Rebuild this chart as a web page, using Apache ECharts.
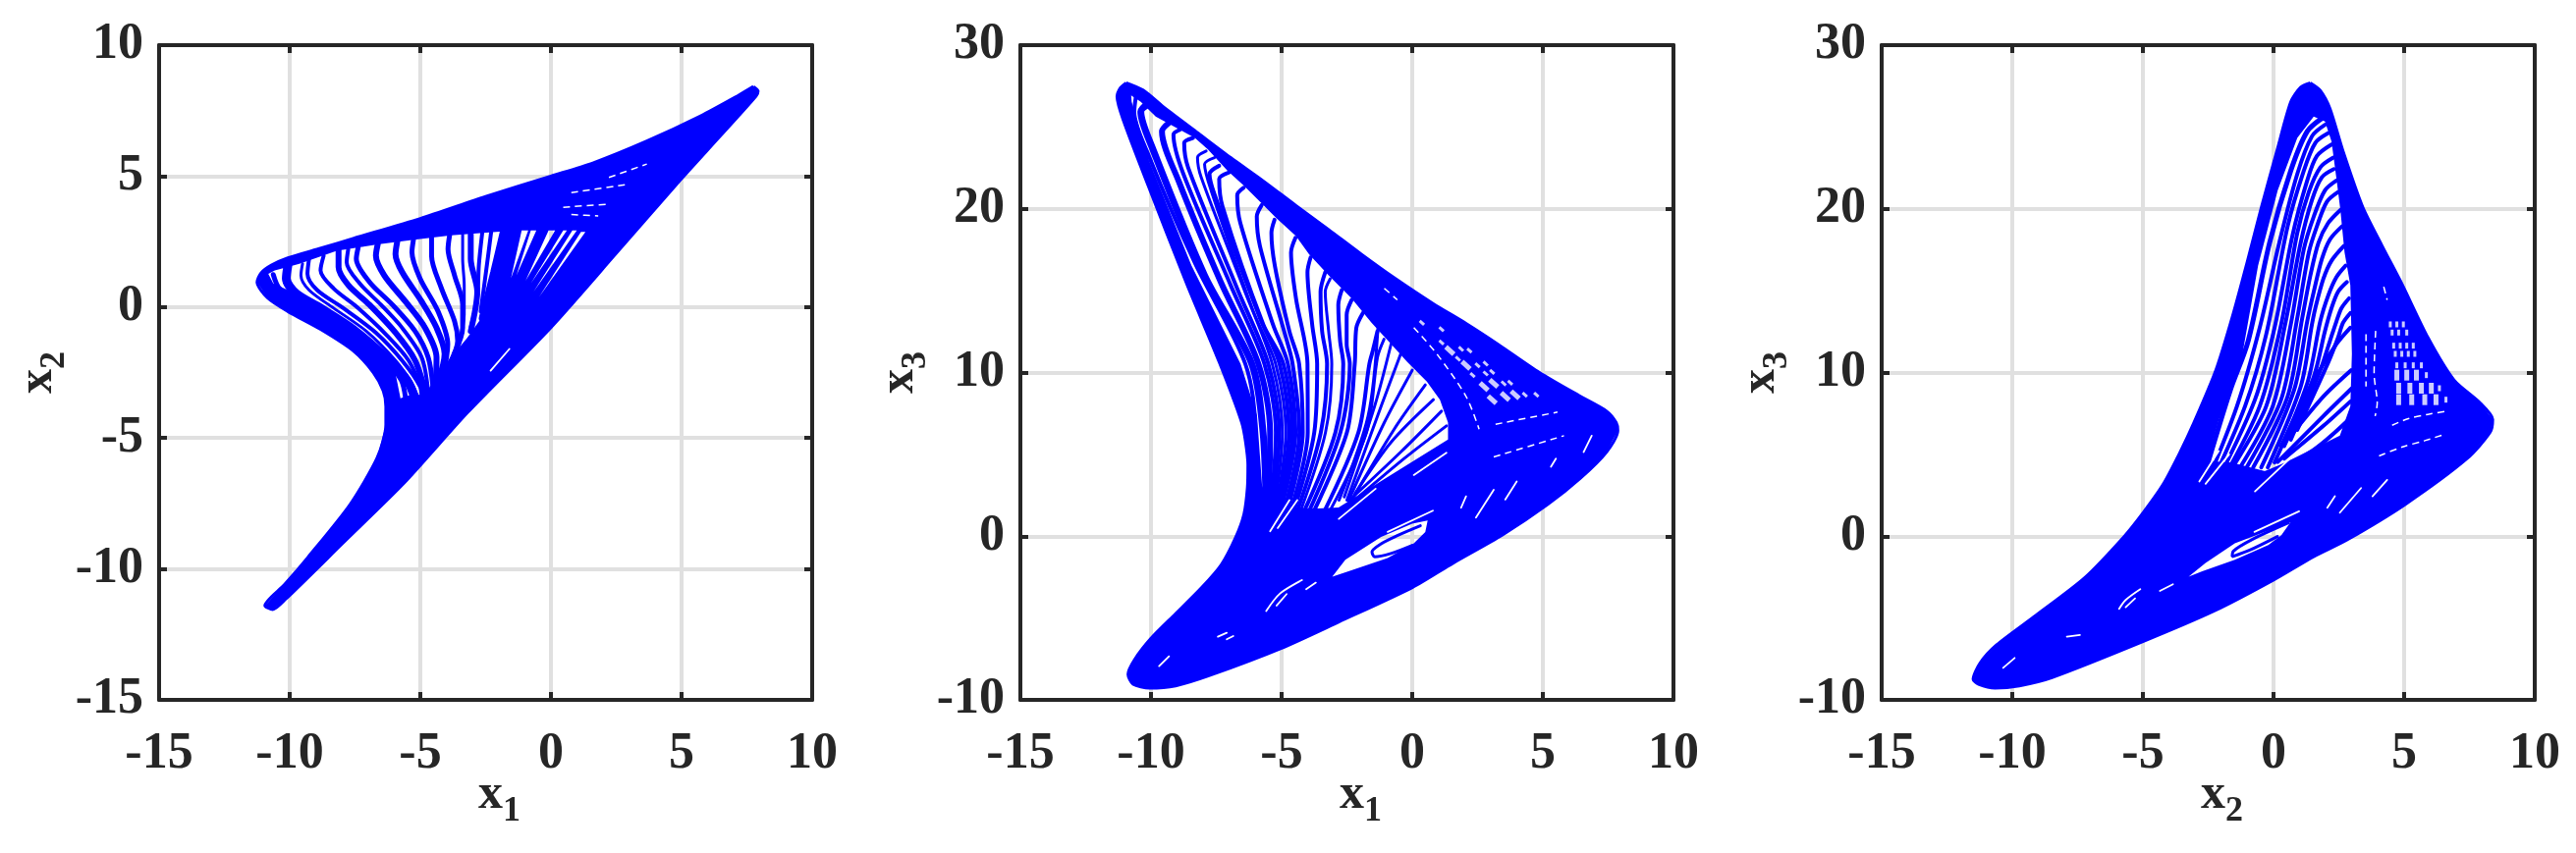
<!DOCTYPE html>
<html><head><meta charset="utf-8">
<style>html,body{margin:0;padding:0;background:#fff}#c{width:2623px;height:869px}</style>
<script src="https://cdn.jsdelivr.net/npm/echarts@6/dist/echarts.min.js"></script>
</head><body><div id="c"></div>
<script>
const xNames = ['1','1','2'];
const yNames = ['2','3','3'];

/* ---------- panel 1 : x1 / x2 ---------- */
const outer1 = [[7.75,8.42],[7.93,8.25],[7.85,8.05],[6.5,6.55],[5,4.9],[2.5,2.05],[0,-0.78],[-3.2,-4.04],[-5.6,-6.7],[-8,-9.05],[-10.15,-11.15],[-10.65,-11.55],[-10.95,-11.4],[-10.2,-10.6],[-9.3,-9.55],[-7.7,-7.55],[-6.65,-5.75],[-6.32,-4.5],[-6.32,-3.8],[-6.42,-3.2],[-6.8,-2.5],[-7.57,-1.67],[-8.82,-0.85],[-10.07,-0.17],[-10.85,0.35],[-11.25,0.95],[-11.1,1.3],[-10.7,1.6],[-10.07,1.88],[-8.8,2.25],[-7.57,2.62],[-5,3.38],[-2.5,4.22],[0,5],[1.6,5.5],[3.67,6.34],[5.73,7.3],[7.17,8.08]];
const hole1 = [[-10.82,1.27],[-10.57,1.4],[-9.63,1.65],[-8.2,2.15],[-6.57,2.4],[-5.32,2.56],[-3.82,2.74],[-1.73,2.9],[-2.13,1.34],[-2.57,-0.29],[-3.2,-1.17],[-3.82,-1.92],[-4.45,-2.73],[-4.82,-3.35],[-5.38,-3.35],[-5.76,-3.48],[-5.95,-2.54],[-6.57,-1.67],[-7.57,-0.85],[-8.82,0],[-10.07,0.65],[-10.63,0.9]];
const wedges1 = [
 [[-1.12,2.93],[-0.87,2.93],[-1.53,1.1]],
 [[-0.77,2.93],[-0.56,2.93],[-1.32,1.21]],
 [[-0.09,2.93],[0.16,2.93],[-0.97,1.0]],
 [[0.47,2.93],[0.61,2.93],[-0.77,0.9]],
 [[0.82,2.93],[0.99,2.93],[-0.66,0.59]],
 [[1.15,2.87],[1.32,2.87],[-0.46,0.38]]
];
const strands1 = [
 [[-10.63,1.24],[-10.38,0.69],[-9.38,0.02],[-7.7,-0.94],[-6.38,-1.98],[-5.73,-2.79],[-5.57,-3.45]],
 [[-10.07,1.59],[-10.13,1.09],[-9.76,0.52],[-8.82,-0.04],[-7.57,-0.85],[-6.32,-1.92],[-5.51,-2.79],[-5.2,-3.5]],
 [[-9.51,1.65],[-9.57,1.21],[-9.26,0.65],[-8.32,-0.04],[-7.07,-0.92],[-5.95,-2.04],[-5.32,-2.92],[-5.07,-3.5]],
 [[-9.26,1.84],[-9.32,1.27],[-8.95,0.65],[-7.95,-0.04],[-6.7,-0.98],[-5.7,-2.04],[-5.01,-3.04],[-4.95,-3.5]],
 [[-8.7,1.96],[-8.82,1.4],[-8.32,0.71],[-7.45,0.02],[-6.32,-1.04],[-5.45,-2.04],[-4.82,-3.4]],
 [[-8.13,2.15],[-8.13,1.52],[-7.76,0.84],[-6.95,0.09],[-5.95,-0.98],[-5.2,-2.04],[-4.76,-3.4]],
 [[-7.76,2.21],[-7.82,1.71],[-7.32,0.9],[-6.51,0.09],[-5.7,-0.79],[-4.95,-1.92],[-4.7,-3.2]],
 [[-7.38,2.27],[-7.45,1.84],[-6.95,0.96],[-6.07,0.09],[-5.2,-0.92],[-4.7,-1.92],[-4.51,-3.1]],
 [[-6.63,2.4],[-6.7,1.96],[-6.38,1.21],[-5.57,0.21],[-4.82,-0.79],[-4.38,-1.92],[-4.4,-3.0]],
 [[-5.88,2.52],[-5.95,2.02],[-5.7,1.34],[-4.95,0.21],[-4.38,-0.79],[-4.07,-1.79],[-4.3,-2.8]],
 [[-5.26,2.59],[-5.32,2.09],[-5.01,1.09],[-4.32,-0.17],[-3.95,-1.42],[-4.1,-2.5]],
 [[-4.57,2.65],[-4.57,1.96],[-4.19,0.71],[-3.69,-0.54],[-3.57,-1.29],[-3.9,-2.2]],
 [[-3.88,2.73],[-3.94,2.21],[-3.69,1.21],[-3.38,0.09],[-3.38,-0.79],[-3.7,-1.8]],
 [[-3.38,2.77],[-3.38,1.84],[-3.32,0.84],[-3.32,-0.29],[-3.51,-1.42]],
 [[-3.07,2.77],[-3.07,1.84],[-2.82,0.59],[-3.07,-0.92]],
 [[-2.63,2.84],[-2.76,1.59],[-2.82,0.34],[-3.07,-0.79]],
 [[-2.29,2.86],[-2.47,1.46],[-2.69,-0.17]],
 [[-1.82,2.9],[-2.19,1.34],[-2.63,-0.42]]
];
const widths1 = [5,9,3,4,4,6,4,5,6,6,5,5,5,3,6,4,4,7];
const slits1 = [
 [[-1.59,-1.6],[-2.31,-2.43]]
];
const dashes1 = [
 [[2.22,4.95],[3.67,5.46]],
 [[0.78,4.37],[2.95,4.69]],
 [[0.47,3.81],[2.22,3.93]],
 [[0.78,3.53],[1.81,3.48]]
];

/* ---------- panel 2 : x1 / x3 ---------- */
const outer2 = [[-10.95,27.7],[-10.3,27.25],[-9.45,26.13],[-8.2,24.63],[-6.95,23.13],[-5.7,21.7],[-4.45,20.2],[-3.2,18.73],[-1.95,17.23],[-0.7,15.8],[0.81,14.2],[2.06,13.0],[3.31,11.7],[4.87,10],[6.44,8.54],[7.44,7.64],[7.81,6.94],[7.87,6.44],[7.44,5.14],[6.44,3.54],[5.19,1.94],[3.44,0.06],[1.57,-1.64],[0,-3.14],[-2.81,-5.24],[-5,-6.84],[-7.81,-8.54],[-9.06,-9.14],[-10.06,-9.28],[-10.69,-9.04],[-10.88,-8.44],[-10.63,-7.54],[-10,-6.24],[-9.06,-4.74],[-8.06,-3.14],[-7.31,-1.74],[-6.75,-0.04],[-6.44,1.36],[-6.31,2.96],[-6.29,4.36],[-6.38,5.76],[-6.53,6.96],[-7.38,10.6],[-8.64,15.44],[-10.11,21.42],[-11.06,25.41],[-11.3,26.85],[-11.17,27.4]];
const hole2 = [[-10.76,26.93],[-10.74,26.53],[-10.07,22.93],[-8.45,16.53],[-6.57,10.53],[-5.94,7.34],[-5.75,3.14],[-5.5,1.9],[-4.6,1.7],[-3.6,1.7],[-2.82,1.75],[1.37,5.9],[1.37,6.94],[1.06,8.34],[0.56,9.44],[-0.19,10.64],[-0.81,11.74],[-1.56,13.04],[-2.32,14.53],[-3.2,15.93],[-3.95,17.23],[-4.45,18.33],[-5.2,19.43],[-5.76,20.33],[-6.45,21.43],[-7.07,22.33],[-7.82,23.63],[-8.32,24.33],[-9.82,25.63],[-10.39,26.53]];
const lens2 = [[-3.06,-2.48],[-2.56,-1.44],[-1.19,-0.04],[0,0.76],[0.59,0.96],[0.5,0.26],[0.06,-0.44],[-0.94,-1.34],[-2.44,-2.14]];
const strands2 = [
 [[-10.58,26.83],[-10.64,25.93],[-10.08,23.23],[-8.33,16.73],[-6.39,10.53],[-6.0,6.34],[-6,2.94]],
 [[-10.08,26.43],[-10.39,25.93],[-9.95,23.73],[-7.95,15.93],[-6.14,10.53],[-5.71,6.34],[-5.59,1.34]],
 [[-9.33,25.23],[-9.58,24.73],[-8.95,21.73],[-7.33,15.53],[-5.89,10.53],[-5.44,6.34],[-5.5,1.34]],
 [[-8.89,24.83],[-9.14,24.53],[-8.76,22.13],[-6.95,15.33],[-5.66,10.53],[-5.22,6.34],[-5.44,1.34]],
 [[-8.39,24.33],[-8.73,24.03],[-8.58,22.53],[-6.7,15.13],[-5.51,10.53],[-5.09,6.34],[-5.38,1.34]],
 [[-7.89,23.53],[-8.22,23.13],[-8.08,21.93],[-6.45,15.13],[-5.36,10.53],[-4.97,6.34],[-5.31,1.34]],
 [[-7.57,23.13],[-7.95,22.73],[-7.7,21.13],[-6.08,13.73],[-5.23,10.53],[-4.84,6.34],[-5.25,1.34]],
 [[-7.39,22.63],[-7.76,22.13],[-7.58,20.93],[-5.83,13.33],[-5.08,10.53],[-4.72,6.34],[-5.19,1.34]],
 [[-7.01,22.23],[-7.39,21.83],[-7.26,20.13],[-5.7,12.93],[-4.93,10.53],[-4.59,6.34],[-5.13,1.34]],
 [[-6.45,21.29],[-6.7,20.83],[-6.58,19.13],[-5.33,12.93],[-4.76,10.53],[-4.47,6.34],[-5.07,1.34]],
 [[-5.76,20.23],[-5.95,19.53],[-5.83,17.73],[-4.9,12.5],[-4.58,10.53],[-4.32,6.34],[-4.94,1.34]],
 [[-5.27,19.33],[-5.39,18.53],[-5.26,16.53],[-4.7,12.5],[-4.33,10.53],[-4.19,6.34],[-4.82,1.34]],
 [[-4.47,18.23],[-4.64,17.33],[-4.45,14.53],[-4.01,10.53],[-4.0,6.34],[-4.69,1.34]],
 [[-3.89,17.03],[-4.01,16.13],[-3.83,12.93],[-3.64,10.53],[-3.75,6.34],[-4.57,1.34]],
 [[-3.33,16.13],[-3.51,14.93],[-3.45,12.53],[-3.26,10.53],[-3.5,6.34],[-4.44,1.34]],
 [[-3.14,15.73],[-3.33,14.93],[-3.2,12.53],[-3.08,10.53],[-3.32,6.34],[-4.32,1.34]],
 [[-2.7,15.03],[-2.83,14.13],[-2.76,11.93],[-2.64,10.53],[-2.94,6.34],[-4.19,1.34]],
 [[-2.32,14.43],[-2.51,13.53],[-2.51,11.73],[-2.39,10.53],[-2.75,6.34],[-4,1.34]],
 [[-1.89,13.63],[-2.14,12.73],[-2.2,10.53],[-2.5,6.34],[-3.82,1.34]],
 [[-1.33,12.53],[-1.51,11.33],[-1.64,10.53],[-2.06,6.34],[-3.4,1.4]],
 [[-1.08,12.03],[-1.33,10.93],[-1.75,6.34],[-3.2,1.4]],
 [[-1.31,12.74],[-1.69,7.34],[-2.8,2.2]],
 [[-0.81,11.74],[-1.44,7.94],[-2.6,2.4]],
 [[-0.44,11.14],[-1.19,7.94],[-2.5,2.2]],
 [[0,10.14],[-1.07,6.94],[-2.4,2.3]],
 [[0.5,9.24],[-0.69,6.54],[-2.32,2.2]],
 [[0.81,8.34],[-0.81,5.74],[-2.19,2.6]],
 [[1.12,7.64],[-0.44,5.14],[-2.44,2.14]],
 [[1.31,6.74],[-0.31,4.74],[-2.69,1.54]],
 [[0,-0.56],[-0.82,-1.06],[-1.44,-1.26],[-1.54,-0.96],[-1.19,-0.46],[-0.57,0.04],[0.31,0.64]]
];
const widths2 = [4,7,6,4,4,3,3,4,4,4,4,4,4,4,4,3,4,4,4,4,3,3,3,3,3,3,3,3,3,3];
const slits2 = [
 [[-0.94,0.26],[0.79,1.56]],
 [[1.31,5.1],[0.06,3.74]],
 [[4,3.34],[3.56,2.24]],
 [[3.12,2.84],[2.44,1.14]],
 [[2.06,2.44],[1.87,1.74]],
 [[5.5,4.74],[5.31,4.24]],
 [[6.87,6.14],[6.56,5.14]],
 [[-5.59,-4.57],[-5.06,-3.5],[-4.22,-2.68]],
 [[-5.19,-4.24],[-4.81,-3.54]],
 [[-4.06,-3.24],[-3.69,-2.84]],
 [[-7.44,-6.14],[-7.1,-5.9]],
 [[-7.1,-6.3],[-6.85,-6.1]],
 [[-9.69,-7.94],[-9.31,-7.34]],
 [[-5.44,0.3],[-4.7,2.2]],
 [[-5.15,0.5],[-4.4,2.2]],
 [[-2.81,1.06],[-1.4,2.9]]
];
const dashes2 = [
 [[3.19,6.84],[5.56,7.58]],
 [[3.12,4.84],[5.81,6.14]],
 [[0.06,12.74],[0.94,11.14],[2.06,8.54],[2.56,6.54]],
 [[-1.07,15.14],[-0.57,14.44]]
];
const windowsBig2 = [[1.44,11.34],[2.06,10.44],[2.75,9.14],[3.12,9.34],[3.06,8.34],[3.56,8.54],[3.94,8.64]];
const windowsSmall2 = [[0.37,13.04],[1.12,12.64],[1.12,11.84],[1.87,11.44],[2.19,11.34],[1.75,10.84],[2.5,10.44],[2.81,10.54],[2.31,9.84],[2.81,9.94],[3.06,10.04],[3.5,9.34],[3.75,9.38],[4.31,8.64],[4.75,8.64]];

/* ---------- panel 3 : x2 / x3 ---------- */
const outer3 = [[1.41,27.69],[1.79,27.23],[2.16,26.13],[2.66,23.53],[3.41,20.13],[4.16,17.73],[4.91,15.43],[5.91,12.14],[6.91,9.54],[7.91,8.14],[8.39,7.14],[8.29,6.34],[7.41,4.74],[5.04,1.94],[2.8,-0.24],[1.55,-1.24],[0,-2.68],[-2.23,-4.54],[-5,-6.44],[-8.48,-8.64],[-9.73,-9.14],[-10.66,-9.28],[-11.29,-9.04],[-11.5,-8.74],[-11.23,-7.74],[-10.6,-6.64],[-9.1,-4.84],[-7.23,-2.54],[-5.73,-0.04],[-4.98,1.46],[-4.23,3.16],[-3.6,5.06],[-3.04,6.96],[-2.21,10.13],[-1.59,13.33],[-1,16.8],[-0.46,20.13],[0.16,23.73],[0.66,26.53],[1.04,27.43]];
const hole3 = [[1.54,25.63],[0.91,24.33],[0.16,21.13],[-0.59,16.53],[-1.28,10.33],[-2.09,7.14],[-2.55,4.6],[-1.6,4.5],[-0.25,3.95],[2.54,6.14],[2.94,7.94],[3,11.14],[2.94,15.34],[2.72,17.33],[2.56,19.93],[2.41,21.83],[2.22,24.13],[1.97,25.33]];
const lens3 = [[-3.25,-2.48],[-2.6,-1.64],[-1.48,-0.44],[0.65,0.86],[0.3,0.06],[-0.2,-0.54],[-1.48,-1.44],[-2.73,-2.14]];
const strands3 = [
 [[1.89,25.57],[1.29,24.73],[0.66,22.33],[-0.15,17.93],[-0.97,11.93],[-1.65,8.94],[-2.65,3.74]],
 [[1.97,25.13],[1.47,24.43],[0.91,22.13],[0.22,17.93],[-0.53,12.73],[-1.4,7.94],[-2.53,3.34]],
 [[2.1,24.63],[1.6,24.03],[1.16,22.33],[0.54,18.93],[-0.28,12.33],[-1.09,7.94],[-2.34,3.34]],
 [[2.22,23.93],[1.66,23.23],[1.29,21.73],[0.72,18.33],[0.04,12.73],[-0.71,8.34],[-2.09,3.54]],
 [[2.29,23.13],[1.79,22.53],[1.35,21.03],[0.91,18.53],[0.29,12.93],[-0.53,7.94],[-1.84,3.74]],
 [[2.31,22.43],[1.85,21.93],[1.47,20.53],[1.04,17.93],[0.47,13.13],[-0.28,7.94],[-1.59,4.14]],
 [[2.41,21.73],[1.97,21.13],[1.54,19.53],[1.16,17.53],[0.66,12.93],[-0.03,7.94],[-1.28,4.2]],
 [[2.47,21.03],[2.04,20.43],[1.66,18.93],[1.35,17.33],[0.91,13.33],[0.29,8.34],[-1.03,4.2]],
 [[2.56,19.93],[2.09,19.13],[1.72,17.93],[1.41,15.93],[1.1,13.33],[0.54,8.54],[-0.78,4.2]],
 [[2.62,18.93],[2.16,18.13],[1.85,16.93],[1.54,14.93],[1.29,13.13],[0.79,8.94],[-0.47,4.2]],
 [[2.69,17.73],[2.22,16.83],[1.91,15.73],[1.6,13.93],[1.47,12.93],[1.04,9.14],[-0.22,4.2]],
 [[2.76,16.53],[2.41,15.83],[2.1,14.73],[1.79,13.13],[1.29,9.34],[0.04,4.5]],
 [[2.81,15.53],[2.47,14.93],[2.22,13.93],[1.97,12.53],[1.54,9.74],[0.41,5.5]],
 [[2.89,14.53],[2.6,13.93],[2.41,13.13],[2.16,11.93],[1.79,10.14],[0.66,5.9]],
 [[2.94,13.63],[2.66,13.03],[2.47,12.13],[2.1,10.64],[0.91,6.5]],
 [[2.94,12.74],[2.41,11.74],[1.41,9.14],[0.29,5.5]],
 [[2.97,10.14],[1.91,8.54],[0.66,6.14]],
 [[3,9.04],[1.91,7.34],[0.16,4.54]],
 [[2.95,8.24],[1.91,6.74],[0.41,4.74]],
 [[2.89,7.14],[1.41,5.14],[-0.34,3.84]],
 [[0.15,-0.02],[-0.91,-0.85],[-1.58,-1.25],[-1.54,-0.92],[-0.8,-0.19],[0.57,0.81]]
];
const widths3 = [5,4,4,4,4,4,4,4,4,4,4,4,4,4,4,4,4,4,4,4,3];
const slits3 = [
 [[0.98,1.52],[-0.73,0.26]],
 [[4.35,3.44],[3.79,2.44]],
 [[3.35,2.94],[2.54,1.44]],
 [[2.35,2.44],[2.06,1.74]],
 [[-5.91,-4.44],[-5.66,-3.9],[-5.1,-3.24]],
 [[-5.66,-4.34],[-5.3,-3.8]],
 [[-4.35,-3.34],[-3.85,-2.94]],
 [[-7.91,-6.14],[-7.41,-6.04]],
 [[-10.35,-8.04],[-9.91,-7.44]],
 [[-2.84,3.34],[-2.1,5.2]],
 [[-2.6,3.2],[-1.7,5]],
 [[-0.71,2.74],[0.6,4.7]]
];
const dashes3 = [
 [[4.54,6.78],[5.16,7.18],[5.91,7.44],[6.66,7.64]],
 [[4.04,4.9],[4.91,5.44],[5.79,5.84],[6.47,6.18]],
 [[3.54,12.34],[3.54,9.14]],
 [[3.91,12.54],[3.85,9.94],[3.97,8.14],[3.89,7.34]],
 [[4.22,15.24],[4.35,14.44]]
];
const windowsBig3 = [[4.79,9.04],[5.22,9.04],[5.66,9.04],[6.04,9.04],[4.79,8.34],[5.29,8.34],[5.79,8.34],[6.22,8.34],[4.72,9.84],[5.1,9.84],[5.47,9.84]];
const windowsSmall3 = [[4.47,12.94],[4.72,12.94],[4.97,12.94],[4.54,12.44],[4.79,12.44],[5.1,12.44],[4.6,11.64],[4.85,11.64],[5.1,11.64],[5.35,11.64],[4.66,11.14],[4.91,11.14],[5.16,11.14],[5.41,11.14],[4.72,10.44],[5.04,10.44],[5.35,10.44],[5.66,10.44],[5.85,9.84],[6.35,9.04],[6.6,8.34]];

/* ---------- drawing ---------- */
const BLUE = '#0000ff', INK = '#262626', FONT = 'Liberation Serif';
const panels = [
 {left:162, yMin:-15, yMax:10, yStep:5, outer:outer1, holes:[hole1].concat(wedges1), strands:strands1, widths:widths1, slits:slits1, dashes:dashes1, big:[], small:[], rot:0},
 {left:1039, yMin:-10, yMax:30, yStep:10, outer:outer2, holes:[hole2,lens2], strands:strands2, widths:widths2, slits:slits2, dashes:dashes2, big:windowsBig2, small:windowsSmall2, rot:-42, bigSize:[11,5], smallSize:[6,3]},
 {left:1916, yMin:-10, yMax:30, yStep:10, outer:outer3, holes:[hole3,lens3], strands:strands3, widths:widths3, slits:slits3, dashes:dashes3, big:windowsBig3, small:windowsSmall3, rot:0, bigSize:[5,11], smallSize:[3,6]}
];
function area(r){let a=0;for(let i=0;i<r.length;i++){const p=r[i],q=r[(i+1)%r.length];a+=p[0]*q[1]-q[0]*p[1];}return a;}
function rich(){return {v:{fontSize:50,fontWeight:'bold',fontFamily:FONT,color:INK,lineHeight:60,verticalAlign:'top'},
                        s:{fontSize:36,fontWeight:'bold',fontFamily:FONT,color:INK,lineHeight:60,verticalAlign:'bottom',padding:[36,0,0,0]}};}
const grids=[],xAxes=[],yAxes=[],series=[];
const labelStyle={fontSize:52,fontWeight:'bold',fontFamily:FONT,color:INK};
const lineS={show:true,onZero:false,lineStyle:{color:INK,width:4}};
const tickS={show:true,inside:true,length:8,lineStyle:{color:INK,width:4}};
const gridS={show:true,lineStyle:{color:'#e0e0e0',width:4}};
panels.forEach((P,k)=>{
  grids.push({left:P.left,top:46,width:665,height:667,outerBoundsMode:'none'});
  const xi=xAxes.length,yi=yAxes.length;
  xAxes.push({gridIndex:k,type:'value',position:'bottom',min:-15,max:10,interval:5,axisLine:lineS,axisTick:tickS,splitLine:gridS,
    axisLabel:Object.assign({margin:30,showMinLabel:true,showMaxLabel:true},labelStyle),
    name:'{v|x}{s|'+xNames[k]+'}',nameLocation:'middle',nameGap:72,nameMoveOverlap:false,nameTextStyle:{rich:rich(),padding:[0,0,0,28]}});
  xAxes.push({gridIndex:k,type:'value',position:'top',min:-15,max:10,interval:5,axisLine:lineS,axisTick:tickS,splitLine:{show:false},axisLabel:{show:false}});
  yAxes.push({gridIndex:k,type:'value',position:'left',min:P.yMin,max:P.yMax,interval:P.yStep,axisLine:lineS,axisTick:tickS,splitLine:gridS,
    axisLabel:Object.assign({margin:16,showMinLabel:true,showMaxLabel:true},labelStyle),
    name:'{v|x}{s|'+yNames[k]+'}',nameLocation:'middle',nameGap:88,nameMoveOverlap:false,nameTextStyle:{rich:rich()}});
  yAxes.push({gridIndex:k,type:'value',position:'right',min:P.yMin,max:P.yMax,interval:P.yStep,axisLine:lineS,axisTick:tickS,splitLine:{show:false},axisLabel:{show:false}});
  const ax={xAxisIndex:xi,yAxisIndex:yi,animation:false,silent:true};
  series.push(Object.assign({type:'custom',z:2,data:P.outer,encode:{x:0,y:1},
    renderItem:(params,api)=>{
      if(params.dataIndex!==0) return null;
      const o=P.outer, sign=area(o)>0?1:-1; const pts=o.map(p=>api.coord(p));
      pts.push(api.coord(o[0]));
      P.holes.forEach(h=>{
        const r=(area(h)>0?1:-1)===sign?h.slice().reverse():h;
        r.forEach(p=>pts.push(api.coord(p))); pts.push(api.coord(r[0])); pts.push(api.coord(o[0]));
      });
      return {type:'polygon',shape:{points:pts},style:{fill:BLUE,stroke:null}};
    }},ax));
  series.push(Object.assign({type:'line',z:3,data:P.outer.concat([P.outer[0]]),showSymbol:false,smooth:0.25,lineStyle:{color:BLUE,width:3,join:'round'}},ax));
  P.strands.forEach((s,i)=>series.push(Object.assign({type:'line',z:3,data:s,showSymbol:false,smooth:0.3,lineStyle:{color:BLUE,width:P.widths[i],cap:'round'}},ax)));
  P.slits.forEach(s=>series.push(Object.assign({type:'line',z:4,data:s,showSymbol:false,smooth:0.3,lineStyle:{color:'#fff',width:1.8,cap:'round'}},ax)));
  P.dashes.forEach(s=>series.push(Object.assign({type:'line',z:4,data:s,showSymbol:false,smooth:0.3,lineStyle:{color:'#fff',width:1.5,type:[7,5]}},ax)));
  if(P.big.length) series.push(Object.assign({type:'scatter',z:4,data:P.big,symbol:'rect',symbolSize:P.bigSize,symbolRotate:P.rot,itemStyle:{color:'#fff'}},ax));
  if(P.small.length) series.push(Object.assign({type:'scatter',z:4,data:P.small,symbol:'rect',symbolSize:P.smallSize,symbolRotate:P.rot,itemStyle:{color:'#fff'}},ax));
});
const chart=echarts.init(document.getElementById('c'),null,{renderer:'canvas'});
chart.setOption({animation:false,backgroundColor:'#fff',grid:grids,xAxis:xAxes,yAxis:yAxes,series:series});
</script></body></html>
